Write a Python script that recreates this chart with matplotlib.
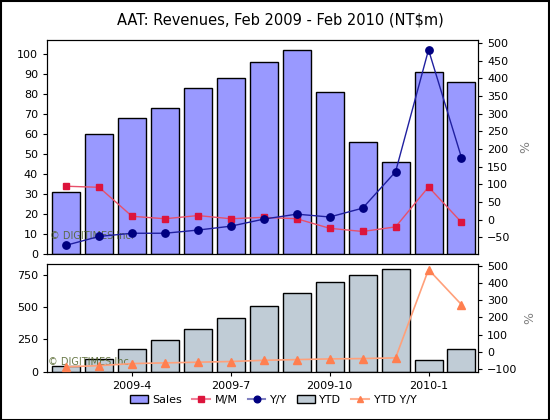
import matplotlib
matplotlib.use("Agg")
import matplotlib.pyplot as plt
import numpy as np
from matplotlib.lines import Line2D
from matplotlib.patches import Patch

# Feb 2009 .. Feb 2010
months = ["2009-2", "2009-3", "2009-4", "2009-5", "2009-6", "2009-7", "2009-8",
          "2009-9", "2009-10", "2009-11", "2009-12", "2010-1", "2010-2"]
sales = [31, 60, 68, 73, 83, 88, 96, 102, 81, 56, 46, 91, 86]
mm = [95, 92, 10, 3, 12, 3, 7, 3, -24, -33, -20, 93, -7]
yy = [-72, -47, -38, -38, -29, -18, 2, 16, 8, 33, 136, 481, 176]
ytd = [45, 100, 172, 245, 328, 415, 508, 610, 693, 750, 797, 88, 175]
ytd_yy = [-86, -79, -67, -63, -59, -55, -48, -44, -40, -38, -34, 477, 274]
tick_idx = [2, 5, 8, 11]

x = np.arange(len(months))
fs = 8
ms = 4.8

fig = plt.figure(figsize=(5.5, 4.2), dpi=100)
fig.patches.append(plt.Rectangle((0.001, 0.001), 0.997, 0.997, transform=fig.transFigure,
                                 fill=False, edgecolor='black', linewidth=1.5))

fig.text(0.51, 0.952, "AAT: Revenues, Feb 2009 - Feb 2010 (NT$m)", ha='center', va='center',
         fontsize=10.5)

# top panel
ax1 = fig.add_axes([0.0855, 0.395, 0.7835, 0.51])
ax1.bar(x, sales, width=0.85, color='#9999FF', edgecolor='black', linewidth=1)
ax1.set_xlim(-0.58, 12.5)
ax1.set_ylim(0, 107)
ax1.set_yticks(range(0, 101, 10))
ax1.set_xticks([])
ax1.tick_params(axis='y', labelsize=fs, length=3)

ax1r = ax1.twinx()
ax1r.text(0.008, 0.085, "\u00a9 DIGITIMES Inc.", transform=ax1r.transAxes, fontsize=7,
          color='#4F6228', alpha=0.85, va='center', zorder=1)
ax1r.plot(x, mm, color='#E8506A', linewidth=1, marker='s', markersize=ms,
          markerfacecolor='#DC143C', markeredgecolor='#DC143C', zorder=3)
ax1r.plot(x, yy, color='#2020A0', linewidth=1, marker='o', markersize=ms + 0.5,
          markerfacecolor='#000080', markeredgecolor='#000080', zorder=3)
ax1r.set_ylim(-97, 509)
ax1r.set_yticks(range(-50, 501, 50))
ax1r.tick_params(axis='y', labelsize=fs, length=3)
ax1r.set_ylabel("%", fontsize=9, color='grey', rotation=90)
ax1r.yaxis.set_label_coords(1.097, 0.5)

# bottom panel
ax2 = fig.add_axes([0.0855, 0.115, 0.7835, 0.256])
ax2.bar(x, ytd, width=0.85, color='#C0CCD6', edgecolor='black', linewidth=1)
ax2.set_xlim(-0.58, 12.5)
ax2.set_ylim(0, 833)
ax2.set_yticks([0, 250, 500, 750])
ax2.set_xticks(tick_idx)
ax2.set_xticklabels([months[i] for i in tick_idx])
ax2.tick_params(axis='both', labelsize=fs, length=3)

ax2r = ax2.twinx()
ax2r.text(0.003, 0.09, "\u00a9 DIGITIMES Inc.", transform=ax2r.transAxes, fontsize=7,
          color='#4F6228', alpha=0.85, va='center', zorder=1)
ax2r.plot(x, ytd_yy, color='#FFA07A', linewidth=1.2, marker='^', markersize=ms + 0.5,
          markerfacecolor='#FF7F50', markeredgecolor='#FF7F50', zorder=3)
ax2r.set_ylim(-114, 508)
ax2r.set_yticks(range(-100, 501, 100))
ax2r.tick_params(axis='y', labelsize=fs, length=3)
ax2r.set_ylabel("%", fontsize=9, color='grey', rotation=90)
ax2r.yaxis.set_label_coords(1.104, 0.5)

handles = [
    Patch(facecolor='#9999FF', edgecolor='black'),
    Line2D([], [], color='#F08098', marker='s', markerfacecolor='#DC143C',
           markeredgecolor='#DC143C', markersize=ms),
    Line2D([], [], color='#8080C0', marker='o', markerfacecolor='#000080',
           markeredgecolor='#000080', markersize=ms),
    Patch(facecolor='#C0CCD6', edgecolor='black'),
    Line2D([], [], color='#FFB090', marker='^', markerfacecolor='#FF7F50',
           markeredgecolor='#FF7F50', markersize=ms),
]
fig.legend(handles, ["Sales", "M/M", "Y/Y", "YTD", "YTD Y/Y"], loc='center',
           bbox_to_anchor=(0.497, 0.048), ncol=5, frameon=False, fontsize=fs,
           handlelength=1.6, handletextpad=0.4, columnspacing=0.9)

fig.savefig("out.png", dpi=100)
